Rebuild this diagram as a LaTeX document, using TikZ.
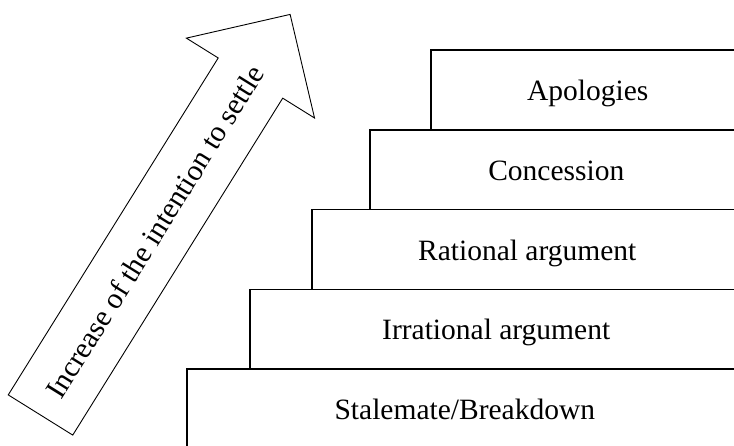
\documentclass[tikz,border=0pt]{standalone}
\usepackage{fontspec}
\setmainfont{Liberation Serif}
\usetikzlibrary{positioning}
\begin{document}
\begin{tikzpicture}[x=1pt,y=1pt,every node/.style={font=\fontsize{29.5}{35}\selectfont,inner sep=0pt},
		stair/.style={line width=1.7pt,line join=miter},
		rise/.style={line width=0.9pt,line join=miter}]
	\useasboundingbox (0,0) rectangle (734,446);
	\clip (0,0) rectangle (734,446);
	% steps: left edge / top edge / text centre / name / text
	\foreach \lx/\ty/\cx/\nm/\txt in {187/76.8/464.8/stale/{Stalemate/Breakdown},
		250/156.6/496.2/irrat/{Irrational argument},
		312.3/236.4/527.2/ratio/{Rational argument},
		370/316.2/556.3/conc/{Concession},
		431/396/587.8/apol/{Apologies}}
	{
		\draw[stair] (\lx,\ty-79.8) -- (\lx,\ty) -- (740,\ty);
		\node[anchor=base] (\nm) at (\cx,\ty-50.5) {\txt};
	}
	% big arrow on the left
	\begin{scope}[shift={(40.5,31)},rotate=58.07]
		\draw[rise] (0,-38) -- (397,-38) -- (397,-75.5) -- (472,0) -- (397,75.5) -- (397,38) -- (0,38) -- cycle;
		\node[rotate=58.07] (intent) at (216,0) {Increase of the intention to settle};
	\end{scope}
\end{tikzpicture}
\end{document}
